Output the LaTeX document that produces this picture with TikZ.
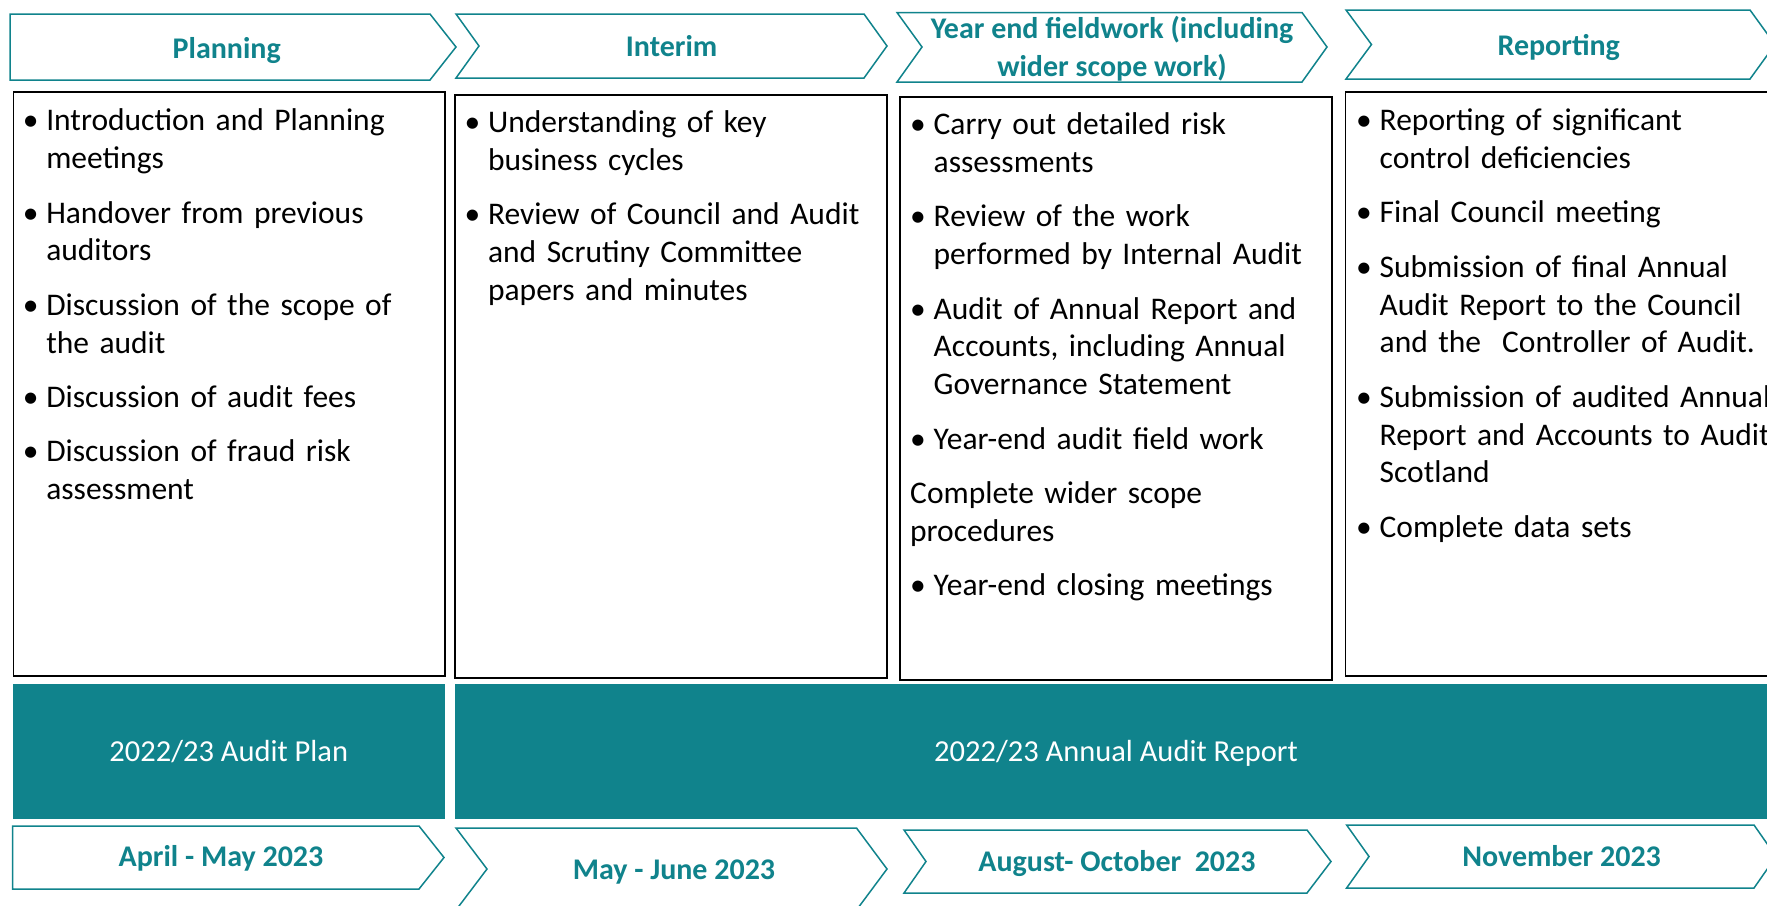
\documentclass[tikz,border=0pt]{standalone}
\usepackage{fontspec}
\setmainfont{Carlito}
\definecolor{auditteal}{RGB}{16,131,140}
\newcommand{\bitem}[1]{\hangindent=23.5pt\hangafter=1\noindent\makebox[23.5pt][l]{\strut\textbullet}#1\par}
\newcommand{\pitem}[1]{\noindent\strut#1\par}
\begin{document}
\begin{tikzpicture}[x=1pt,y=-1pt,
    chev/.style={draw=auditteal,line width=1.5pt,fill=white},
    box/.style={draw=black,line width=1.8pt},
    band/.style={fill=auditteal},
    head/.style={anchor=base,inner sep=0pt,text=auditteal,font=\fontsize{30}{37.5}\selectfont\bfseries},
    bandtext/.style={anchor=base,inner sep=0pt,text=white,font=\fontsize{30.5}{36}\selectfont},
    list/.style={anchor=north west,inner sep=0pt,text width=480pt,font=\fontsize{31.5}{37.8}\selectfont}]
      \useasboundingbox (0,0) rectangle (1767,905);
      \clip (0,0) rectangle (1767,905);
      \draw[box] (13.5,92) rectangle (445,676);
      \draw[box] (455,95) rectangle (887,678);
      \draw[box] (900,97) rectangle (1332,680);
      \draw[box] (1345.5,92) rectangle (1800,676);
      \fill[band] (13,684) rectangle (445,819);
      \fill[band] (455,684) rectangle (1800,819);
      \draw[chev] (10,14) -- (430,14) -- (456,47) -- (430,80) -- (10,80) -- cycle;
      \draw[chev] (456,14) -- (864,14) -- (887,46) -- (864,78) -- (456,78) -- (479,46) -- cycle;
      \draw[chev] (897,12.5) -- (1302,12.5) -- (1327,47) -- (1302,82) -- (897,82) -- (922,47) -- cycle;
      \draw[chev] (1346,10) -- (1750,10) -- (1775,44.5) -- (1750,79) -- (1346,79) -- (1371.5,44.5) -- cycle;
      \draw[chev] (12.6,826) -- (419,826) -- (444,857.5) -- (419,889) -- (12.6,889) -- cycle;
      \draw[chev] (456,828) -- (856.5,828) -- (887,869) -- (856.5,910) -- (456,910) -- (487,869) -- cycle;
      \draw[chev] (904,830) -- (1307,830) -- (1331,861.5) -- (1307,893) -- (904,893) -- (926,861.5) -- cycle;
      \draw[chev] (1346.6,825) -- (1754,825) -- (1776,856.5) -- (1754,888) -- (1346.6,888) -- (1369,856.5) -- cycle;
      \node[head] (h1) at (226.7,58.3) {Planning};
      \node[head] (h2) at (671.6,56.7) {Interim};
      \node[head,anchor=north,align=center] (h3) at (1112,12.2) {\strut Year end fieldwork (including\\wider scope work)};
      \node[head] (h4) at (1558.7,55) {Reporting};
      \node[list] (l1) at (22.6,104.2) {\setlength{\parskip}{16.6pt}%
        \bitem{Introduction and Planning\newline meetings}
        \bitem{Handover from previous\newline auditors}
        \bitem{Discussion of the scope of\newline the audit}
        \bitem{Discussion of audit fees}
        \bitem{Discussion of fraud risk\newline assessment}};
      \node[list] (l2) at (464.4,105.7) {\setlength{\parskip}{16.6pt}%
        \bitem{Understanding of key\newline business cycles}
        \bitem{Review of Council and Audit\newline and Scrutiny Committee\newline papers and minutes}};
      \node[list] (l3) at (910,108) {\setlength{\parskip}{16.6pt}%
        \bitem{Carry out detailed risk\newline assessments}
        \bitem{Review of the work\newline performed by Internal Audit}
        \bitem{Audit of Annual Report and\newline Accounts, including Annual\newline Governance Statement}
        \bitem{Year-end audit field work}
        \pitem{Complete wider scope\newline procedures}
        \bitem{Year-end closing meetings}};
      \node[list] (l4) at (1356,104) {\setlength{\parskip}{16.6pt}%
        \bitem{Reporting of significant\newline control deficiencies}
        \bitem{Final Council meeting}
        \bitem{Submission of final Annual\newline Audit Report to the Council\newline and the~ Controller of Audit.}
        \bitem{Submission of audited Annual\newline Report and Accounts to Audit\newline Scotland}
        \bitem{Complete data sets}};
      \node[bandtext] (r1) at (228.8,761.7) {2022/23 Audit Plan};
      \node[bandtext] (r2) at (1116,761.7) {2022/23 Annual Audit Report};
      \node[head] (d1) at (221,866.7) {April - May 2023};
      \node[head] (d2) at (674,879.3) {May - June 2023};
      \node[head] (d3) at (1117,871.7) {August- October~ 2023};
      \node[head] (d4) at (1561.6,866.7) {November 2023};
    \end{tikzpicture}
\end{document}
